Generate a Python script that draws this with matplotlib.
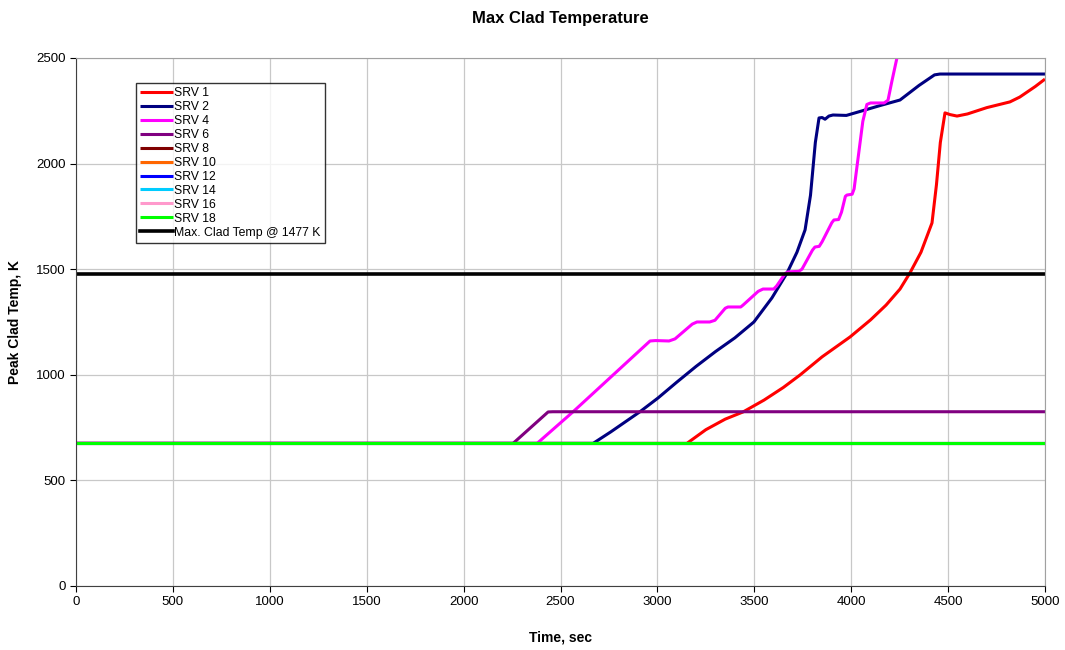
"""
Max clad temperature vs time for the SRV cases.
"""

import matplotlib
matplotlib.use("Agg")
import matplotlib.pyplot as plt

plt.rcParams["font.family"] = ["Liberation Sans", "DejaVu Sans"]

# ── Data ───────────────────────────────────────────────────────
srv1_t = [0, 3152, 3250, 3350, 3442, 3550, 3650, 3736, 3850, 3994, 4100,
          4180, 4252, 4303, 4360, 4417, 4440, 4460, 4484, 4510, 4546, 4600,
          4700, 4819, 4870, 4950, 5000]
srv1_k = [675, 675, 740, 790, 824, 880, 940, 999, 1085, 1179, 1260,
          1330, 1406, 1482, 1580, 1719, 1900, 2100, 2240, 2232, 2225, 2235,
          2265, 2292, 2315, 2365, 2400]

srv2_t = [0, 2668, 2760, 2910, 3003, 3100, 3200, 3300, 3400, 3498, 3591,
          3669, 3720, 3762, 3790, 3815, 3834, 3850, 3865, 3885, 3906, 3975,
          4050, 4150, 4252, 4350, 4430, 4458, 5000]
srv2_k = [675, 675, 730, 825, 890, 965, 1040, 1110, 1175, 1250, 1364,
          1482, 1580, 1686, 1850, 2100, 2216, 2218, 2210, 2225, 2230, 2228,
          2248, 2275, 2301, 2370, 2420, 2424, 2424]

srv4_t = [0, 2379, 2565, 2962, 2990, 3060, 3091, 3180, 3204, 3270, 3297,
          3350, 3364, 3430, 3442, 3520, 3545, 3600, 3615, 3660, 3674, 3730,
          3746, 3800, 3813, 3835, 3850, 3900, 3911, 3935, 3950, 3970, 3978,
          4005, 4015, 4060, 4081, 4100, 4170, 4190, 4210, 4236, 4245]
srv4_k = [675, 675, 825, 1160, 1162, 1160, 1170, 1240, 1250, 1250, 1258,
          1315, 1321, 1321, 1330, 1395, 1406, 1406, 1420, 1480, 1487, 1490,
          1500, 1590, 1605, 1608, 1630, 1720, 1733, 1735, 1770, 1845, 1851,
          1855, 1880, 2200, 2280, 2287, 2287, 2300, 2390, 2500, 2560]

srv6_t = [0, 2255, 2436, 2460, 5000]
srv6_k = [675, 675, 824, 825, 825]

flat_t = [0, 5000]
flat_k = [675, 675]

limit_k = 1477

series = [
    ("SRV 1", srv1_t, srv1_k, "#FF0000"),
    ("SRV 2", srv2_t, srv2_k, "#000080"),
    ("SRV 4", srv4_t, srv4_k, "#FF00FF"),
    ("SRV 6", srv6_t, srv6_k, "#800080"),
    ("SRV 8", flat_t, flat_k, "#800000"),
    ("SRV 10", flat_t, flat_k, "#FF6600"),
    ("SRV 12", flat_t, flat_k, "#0000FF"),
    ("SRV 14", flat_t, flat_k, "#00CCFF"),
    ("SRV 16", flat_t, flat_k, "#FF99CC"),
    ("SRV 18", flat_t, flat_k, "#00FF00"),
]

# ── Plot ───────────────────────────────────────────────────────
fig = plt.figure(figsize=(10.65, 6.5), dpi=100)
ax = fig.add_axes([0.0714, 0.0985, 0.9098, 0.8123])

for name, t, k, c in series:
    ax.plot(t, k, color=c, lw=2.2, label=name, solid_capstyle="butt")
ax.axhline(limit_k, color="black", lw=2.6, label="Max. Clad Temp @ 1477 K")

ax.set_xlim(0, 5000)
ax.set_ylim(0, 2500)
ax.set_xticks(range(0, 5001, 500))
ax.set_yticks(range(0, 2501, 500))
ax.grid(True, color="#c8c8c8", lw=0.9)
ax.set_axisbelow(True)
ax.tick_params(labelsize=9.5, length=4, direction="out")

for side in ("top", "right"):
    ax.spines[side].set_color("#a0a0a0")
for side in ("left", "bottom"):
    ax.spines[side].set_color("#404040")

ax.set_title("Max Clad Temperature", fontsize=12, fontweight="bold", pad=25.5)
ax.set_xlabel("Time, sec", fontsize=10, fontweight="bold", labelpad=16)
ax.set_ylabel("Peak Clad Temp, K", fontsize=10, fontweight="bold", labelpad=10)

leg = ax.legend(loc="upper left", bbox_to_anchor=(0.062, 0.953),
                fontsize=8.8, frameon=True, fancybox=False, handlelength=2.7,
                handletextpad=0.05, labelspacing=0.16, borderpad=0.35,
                borderaxespad=0)
leg.get_frame().set_edgecolor("black")
leg.get_frame().set_linewidth(1.0)

fig.savefig("out.png", dpi=100)
